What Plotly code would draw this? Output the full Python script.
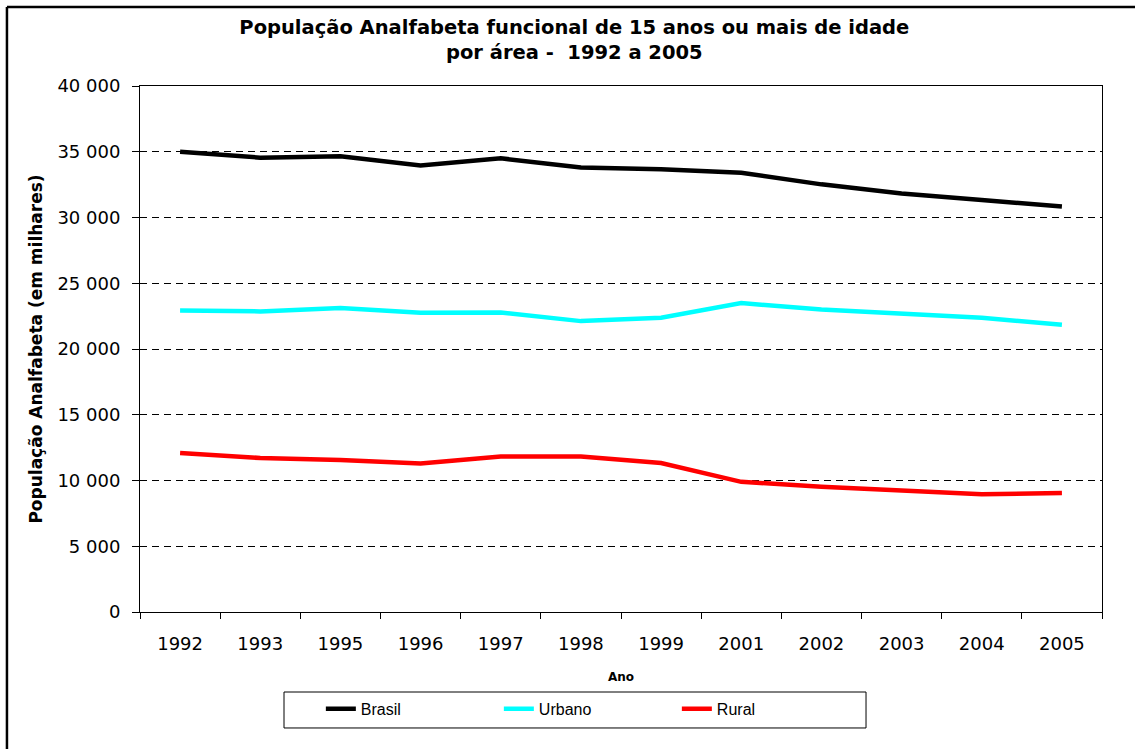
import plotly.graph_objects as go

anos = ["1992", "1993", "1995", "1996", "1997", "1998", "1999", "2001", "2002", "2003", "2004", "2005"]
brasil = [35000, 34550, 34650, 33960, 34500, 33800, 33670, 33400, 32520, 31820, 31330, 30830]
urbano = [22930, 22860, 23110, 22760, 22780, 22120, 22370, 23490, 23000, 22650, 22370, 21840]
rural = [12090, 11710, 11560, 11290, 11820, 11820, 11330, 9900, 9520, 9220, 8960, 9040]

series = [("Brasil", brasil, "#000000"), ("Urbano", urbano, "#00FFFF"), ("Rural", rural, "#FF0000")]

fig = go.Figure()
for name, vals, color in series:
    fig.add_trace(go.Scatter(x=anos, y=vals, name=name, mode="lines",
                             line=dict(color=color, width=4.5)))

TICKFONT = dict(family="DejaVu Sans, Verdana, sans-serif", size=18, color="black")
BOLDFONT = "Verdana, DejaVu Sans, sans-serif"

fig.update_layout(
    width=1135, height=749,
    paper_bgcolor="white", plot_bgcolor="white",
    margin=dict(l=140, r=33, t=86, b=137, autoexpand=False),
    separators=", ",
    title=dict(text="<b>População Analfabeta funcional de 15 anos ou mais de idade<br>por área -  1992 a 2005</b>",
               x=0.506, xanchor="center", xref="container", y=0.955, yanchor="top",
               font=dict(family=BOLDFONT, size=19.5, color="black")),
    font=dict(family="Liberation Sans, Arial, sans-serif", color="black"),
    showlegend=True,
    legend=dict(orientation="h", x=0.188, xanchor="left", y=-0.152, yanchor="top",
                borderwidth=0, bgcolor="rgba(0,0,0,0)",
                font=dict(family="Liberation Sans, Arial, sans-serif", size=16, color="black"),
                entrywidth=133, entrywidthmode="pixels", itemwidth=30),
    shapes=[dict(type="line", xref="paper", yref="paper", x0=-0.1383, x1=1.2, y0=1.1502, y1=1.1502,
                 line=dict(color="black", width=2.5)),
            dict(type="line", xref="paper", yref="paper", x0=-0.1383, x1=-0.1383, y0=-0.4, y1=1.1502,
                 line=dict(color="black", width=2.5)),
            dict(type="rect", xref="paper", yref="paper", x0=0.1497, x1=0.7547, y0=-0.1521, y1=-0.2205,
                 line=dict(color="black", width=1), fillcolor="rgba(0,0,0,0)")],
)

fig.update_xaxes(
    type="category", range=[-0.5, 11.5],
    showline=True, linecolor="black", linewidth=1, mirror=True,
    ticks="outside", ticklen=6, tickcolor="black", tickson="boundaries",
    ticklabelstandoff=15,
    showgrid=False,
    tickfont=TICKFONT,
    title=dict(text="<b>Ano</b>", font=dict(family=BOLDFONT, size=12, color="black"), standoff=20),
)
fig.update_yaxes(
    range=[0, 40000], dtick=5000, tickformat=",d",
    showline=True, linecolor="black", linewidth=1, mirror=True,
    ticks="outside", ticklen=7, tickcolor="black",
    ticklabelstandoff=8,
    showgrid=True, gridcolor="black", griddash="7px,5px", gridwidth=1,
    zeroline=False,
    tickfont=TICKFONT,
    title=dict(text="<b>População Analfabeta (em milhares)</b>",
               font=dict(family=BOLDFONT, size=17, color="black"), standoff=10),
)

fig.write_html("out.html", config={"displayModeBar": False},
               post_script="document.body.style.margin='0px';")
